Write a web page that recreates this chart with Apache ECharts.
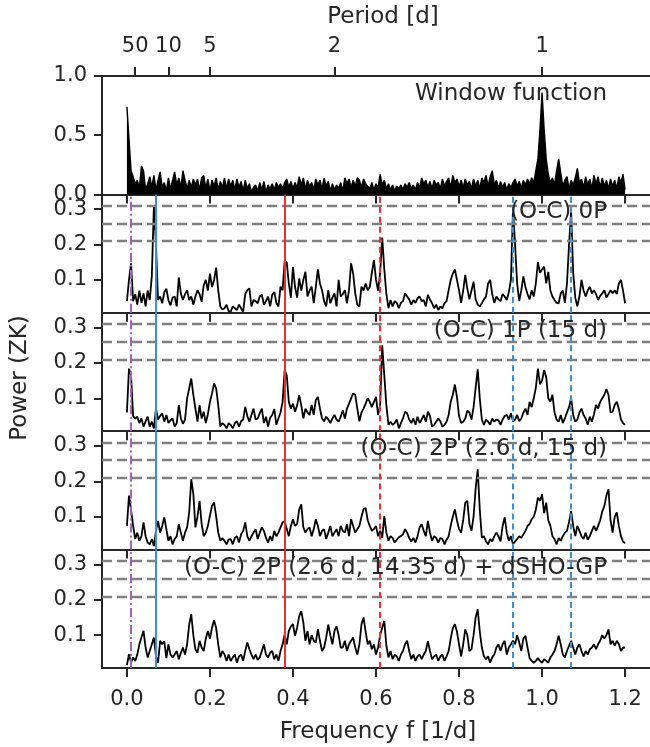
<!DOCTYPE html>
<html>
<head>
<meta charset="utf-8">
<script src="https://cdn.jsdelivr.net/npm/echarts@6/dist/echarts.min.js"></script>
<style>
  html, body { margin: 0; padding: 0; background: #fff; }
  #chart { width: 650px; height: 747px; }
</style>
</head>
<body>
<div id="chart"></div>
<script>
// frequency grid spacing of the periodograms (1/d), starting at 0
const freqStep = 0.005;

// window function power
const windowPower = [
  0.74,0.47,0.2,0.15,0.09,0.12,0.05,0.24,0.2,0.04,
  0.09,0.15,0.06,0.16,0.04,0.12,0.19,0.06,0.1,0.03,
  0.14,0.05,0.12,0.19,0.08,0.14,0.06,0.2,0.12,0.05,
  0.12,0.06,0.13,0.08,0.13,0.04,0.14,0.16,0.05,0.13,
  0.03,0.12,0.07,0.14,0.04,0.11,0.06,0.14,0.05,0.13,
  0.07,0.12,0.04,0.13,0.06,0.11,0.03,0.12,0.05,0.09,
  0.02,0.06,0.08,0.03,0.1,0.04,0.11,0.02,0.08,0.05,
  0.09,0.04,0.1,0.06,0.09,0.05,0.1,0.13,0.06,0.11,
  0.05,0.1,0.06,0.15,0.08,0.14,0.05,0.12,0.07,0.1,
  0.04,0.13,0.08,0.12,0.05,0.14,0.07,0.11,0.03,0.09,
  0.04,0.08,0.05,0.1,0.03,0.14,0.09,0.13,0.06,0.12,
  0.07,0.14,0.12,0.06,0.13,0.09,0.07,0.05,0.1,0.04,
  0.09,0.06,0.17,0.08,0.12,0.05,0.09,0.04,0.08,0.03,
  0.07,0.05,0.08,0.04,0.09,0.06,0.1,0.05,0.08,0.04,
  0.1,0.06,0.14,0.09,0.12,0.06,0.11,0.05,0.12,0.08,
  0.1,0.05,0.13,0.07,0.11,0.14,0.06,0.16,0.1,0.13,
  0.07,0.12,0.06,0.13,0.08,0.11,0.05,0.13,0.07,0.12,
  0.05,0.14,0.1,0.16,0.07,0.15,0.2,0.08,0.12,0.05,
  0.11,0.06,0.1,0.04,0.09,0.06,0.1,0.13,0.07,0.11,
  0.06,0.12,0.08,0.13,0.09,0.14,0.1,0.2,0.3,0.55,
  0.86,0.55,0.3,0.17,0.1,0.14,0.08,0.2,0.3,0.18,
  0.07,0.12,0.15,0.05,0.12,0.08,0.14,0.22,0.1,0.13,
  0.06,0.15,0.08,0.13,0.05,0.16,0.09,0.15,0.06,0.14,
  0.07,0.12,0.05,0.13,0.07,0.12,0.05,0.15,0.1,0.17,
  0.04
];

// (O-C) 0P
const oc0Power = [
  0.04,0.1,0.147,0.04,0.06,0.03,0.07,0.035,0.062,0.025,
  0.07,0.043,0.11,0.31,0.2,0.043,0.053,0.034,0.065,0.075,
  0.043,0.028,0.05,0.053,0.025,0.107,0.062,0.043,0.06,0.071,
  0.043,0.053,0.03,0.053,0.071,0.06,0.038,0.085,0.1,0.07,
  0.118,0.08,0.1,0.135,0.07,0.025,0.016,0.02,0.03,0.012,
  0.01,0.025,0.02,0.015,0.03,0.02,0.01,0.06,0.071,0.076,
  0.025,0.043,0.04,0.034,0.053,0.058,0.03,0.04,0.053,0.025,
  0.058,0.066,0.035,0.025,0.081,0.071,0.154,0.15,0.09,0.05,
  0.137,0.08,0.05,0.104,0.07,0.1,0.123,0.053,0.07,0.081,
  0.034,0.08,0.13,0.09,0.071,0.04,0.025,0.071,0.034,0.05,
  0.062,0.025,0.1,0.053,0.06,0.071,0.034,0.071,0.147,0.118,
  0.062,0.03,0.025,0.081,0.07,0.09,0.071,0.08,0.12,0.156,
  0.1,0.07,0.12,0.22,0.13,0.06,0.02,0.043,0.025,0.04,
  0.035,0.02,0.035,0.04,0.062,0.053,0.045,0.03,0.043,0.035,
  0.048,0.053,0.04,0.043,0.025,0.058,0.045,0.034,0.02,0.03,
  0.015,0.025,0.02,0.034,0.04,0.071,0.1,0.118,0.13,0.1,
  0.071,0.035,0.07,0.114,0.075,0.045,0.07,0.095,0.045,0.03,
  0.025,0.034,0.045,0.053,0.09,0.1,0.06,0.035,0.053,0.045,
  0.04,0.06,0.053,0.043,0.065,0.1,0.3,0.2,0.09,0.04,
  0.071,0.11,0.08,0.06,0.045,0.071,0.053,0.09,0.15,0.12,
  0.13,0.137,0.09,0.123,0.07,0.053,0.043,0.035,0.034,0.062,
  0.07,0.035,0.09,0.2,0.295,0.12,0.05,0.025,0.053,0.1,
  0.07,0.053,0.07,0.081,0.062,0.071,0.06,0.043,0.055,0.062,
  0.071,0.05,0.06,0.071,0.062,0.071,0.06,0.09,0.1,0.07,
  0.034
];

// (O-C) 1P (15 d)
const oc1Power = [
  0.06,0.184,0.165,0.05,0.043,0.048,0.03,0.043,0.02,0.035,
  0.048,0.02,0.034,0.015,0.071,0.04,0.05,0.058,0.034,0.053,
  0.03,0.038,0.043,0.02,0.03,0.081,0.043,0.028,0.04,0.1,
  0.128,0.156,0.11,0.071,0.034,0.081,0.043,0.062,0.03,0.055,
  0.09,0.114,0.142,0.128,0.08,0.02,0.03,0.025,0.015,0.03,
  0.025,0.015,0.03,0.035,0.02,0.035,0.04,0.076,0.05,0.034,
  0.053,0.071,0.04,0.043,0.058,0.071,0.03,0.048,0.02,0.045,
  0.053,0.07,0.025,0.043,0.06,0.09,0.18,0.165,0.09,0.071,
  0.085,0.062,0.08,0.109,0.08,0.043,0.071,0.06,0.053,0.081,
  0.053,0.095,0.104,0.071,0.043,0.035,0.048,0.04,0.03,0.043,
  0.053,0.04,0.034,0.048,0.066,0.043,0.071,0.085,0.1,0.114,
  0.11,0.071,0.035,0.06,0.071,0.085,0.1,0.09,0.075,0.09,
  0.104,0.053,0.081,0.25,0.165,0.08,0.025,0.034,0.025,0.03,
  0.04,0.015,0.03,0.043,0.062,0.058,0.04,0.03,0.043,0.025,
  0.048,0.03,0.04,0.053,0.034,0.062,0.05,0.02,0.025,0.034,
  0.043,0.035,0.02,0.025,0.034,0.053,0.09,0.11,0.139,0.104,
  0.05,0.03,0.034,0.043,0.065,0.06,0.04,0.075,0.13,0.182,
  0.1,0.04,0.025,0.04,0.034,0.025,0.043,0.034,0.04,0.038,
  0.025,0.04,0.05,0.053,0.04,0.058,0.035,0.04,0.053,0.035,
  0.043,0.06,0.071,0.053,0.09,0.075,0.1,0.13,0.184,0.14,
  0.15,0.18,0.16,0.1,0.09,0.11,0.06,0.04,0.034,0.053,
  0.03,0.043,0.06,0.075,0.1,0.053,0.034,0.04,0.06,0.071,
  0.053,0.043,0.025,0.048,0.034,0.055,0.081,0.071,0.09,0.1,
  0.11,0.126,0.11,0.06,0.062,0.081,0.09,0.07,0.04,0.03,
  0.025
];

// (O-C) 2P (2.6 d, 15 d)
const oc2Power = [
  0.074,0.16,0.12,0.074,0.037,0.055,0.032,0.045,0.084,0.045,
  0.027,0.022,0.037,0.017,0.06,0.088,0.055,0.074,0.098,0.065,
  0.032,0.045,0.022,0.037,0.045,0.079,0.055,0.032,0.055,0.07,
  0.112,0.206,0.165,0.07,0.1,0.145,0.08,0.045,0.055,0.074,
  0.103,0.131,0.14,0.1,0.055,0.032,0.04,0.032,0.022,0.035,
  0.037,0.022,0.04,0.045,0.027,0.05,0.06,0.084,0.045,0.032,
  0.045,0.055,0.065,0.037,0.055,0.07,0.06,0.04,0.027,0.045,
  0.032,0.06,0.045,0.055,0.07,0.084,0.088,0.065,0.045,0.074,
  0.093,0.074,0.08,0.12,0.135,0.07,0.055,0.065,0.07,0.045,
  0.065,0.093,0.074,0.045,0.06,0.065,0.037,0.055,0.074,0.045,
  0.055,0.065,0.045,0.074,0.06,0.055,0.079,0.045,0.093,0.074,
  0.055,0.065,0.074,0.1,0.121,0.125,0.09,0.074,0.06,0.065,
  0.074,0.045,0.06,0.04,0.102,0.055,0.032,0.045,0.04,0.027,
  0.035,0.042,0.045,0.05,0.065,0.055,0.04,0.03,0.04,0.027,
  0.045,0.07,0.079,0.06,0.045,0.088,0.055,0.032,0.045,0.04,
  0.027,0.04,0.037,0.022,0.035,0.045,0.075,0.1,0.121,0.09,
  0.065,0.055,0.09,0.14,0.145,0.08,0.06,0.1,0.18,0.234,
  0.12,0.04,0.045,0.03,0.022,0.037,0.03,0.045,0.055,0.045,
  0.03,0.074,0.098,0.055,0.032,0.045,0.022,0.03,0.037,0.045,
  0.04,0.05,0.06,0.074,0.08,0.093,0.1,0.12,0.154,0.145,
  0.163,0.11,0.14,0.09,0.074,0.045,0.037,0.022,0.04,0.032,
  0.045,0.055,0.06,0.085,0.116,0.074,0.045,0.074,0.06,0.045,
  0.037,0.055,0.035,0.045,0.06,0.074,0.06,0.074,0.09,0.115,
  0.13,0.16,0.178,0.09,0.055,0.1,0.112,0.074,0.045,0.03,
  0.025
];

// (O-C) 2P (2.6 d, 14.35 d) + dSHO-GP
const gpPower = [
  0.015,0.046,0.022,0.037,0.027,0.045,0.074,0.093,0.112,0.065,
  0.037,0.055,0.074,0.093,0.04,0.022,0.084,0.074,0.083,0.035,
  0.074,0.045,0.037,0.045,0.055,0.032,0.05,0.065,0.045,0.074,
  0.13,0.159,0.1,0.06,0.05,0.084,0.065,0.055,0.09,0.112,
  0.09,0.121,0.142,0.12,0.074,0.037,0.055,0.045,0.027,0.045,
  0.027,0.037,0.045,0.022,0.04,0.045,0.027,0.055,0.079,0.06,
  0.045,0.032,0.045,0.03,0.037,0.055,0.074,0.045,0.037,0.05,
  0.055,0.032,0.045,0.027,0.055,0.074,0.102,0.074,0.112,0.125,
  0.131,0.098,0.121,0.154,0.168,0.135,0.084,0.112,0.074,0.1,
  0.084,0.079,0.117,0.084,0.055,0.065,0.093,0.13,0.1,0.074,
  0.112,0.125,0.1,0.065,0.065,0.084,0.055,0.074,0.084,0.093,
  0.065,0.045,0.074,0.13,0.15,0.11,0.074,0.084,0.06,0.074,
  0.045,0.065,0.1,0.121,0.14,0.07,0.037,0.055,0.032,0.045,
  0.04,0.027,0.045,0.055,0.074,0.084,0.055,0.032,0.045,0.027,
  0.04,0.045,0.032,0.045,0.055,0.083,0.055,0.032,0.04,0.045,
  0.027,0.04,0.045,0.027,0.04,0.055,0.09,0.12,0.131,0.11,
  0.074,0.04,0.074,0.116,0.1,0.055,0.06,0.1,0.15,0.173,
  0.11,0.065,0.04,0.032,0.04,0.022,0.037,0.045,0.065,0.074,
  0.055,0.074,0.084,0.045,0.065,0.074,0.084,0.074,0.1,0.079,
  0.055,0.09,0.098,0.065,0.035,0.027,0.022,0.027,0.035,0.027,
  0.022,0.032,0.027,0.022,0.037,0.045,0.055,0.074,0.098,0.074,
  0.045,0.037,0.055,0.07,0.084,0.065,0.045,0.065,0.074,0.055,
  0.04,0.055,0.045,0.06,0.065,0.074,0.06,0.074,0.084,0.1,
  0.09,0.1,0.116,0.074,0.084,0.07,0.084,0.074,0.055,0.065,
  0.065
];

const panelLabels = [
  'Window function',
  '(O-C) 0P',
  '(O-C) 1P (15 d)',
  '(O-C) 2P (2.6 d, 15 d)',
  '(O-C) 2P (2.6 d, 14.35 d) + dSHO-GP'
];
const fapLevels = [0.213, 0.264, 0.31];
// purple, blue, red, red alias, blue aliases
const markerFreqs = [0.007, 0.068, 0.382, 0.615, 0.933, 1.07];
const freqTicks = [0, 0.2, 0.4, 0.6, 0.8, 1.0, 1.2];
const periodTicks = [50, 10, 5, 2, 1];
const powerTicks = [0.1, 0.2, 0.3];

const INK = '#262626';
const FONT = 'DejaVu Sans';
const panelTop = [76, 194.4, 312.8, 431.2, 549.6];
const panelH = 118.4;
const xMin = -0.06, xMax = 1.26;

const markerStyles = [
  { color: '#a45ec4', width: 2, type: [9, 3, 2, 3] },
  { color: '#3d8fd1', width: 2, type: 'solid' },
  { color: '#e8312f', width: 2, type: 'solid' },
  { color: '#e8312f', width: 2, type: [6, 4] },
  { color: '#3d8fd1', width: 2, type: [6, 4] },
  { color: '#3d8fd1', width: 2, type: [6, 4] }
];

const toPairs = arr => arr.map((v, i) => [+(i * freqStep).toFixed(3), v]);
const powers = [windowPower, oc0Power, oc1Power, oc2Power, gpPower];

const grids = panelTop.map(t => ({ left: 102, width: 550, top: t, height: panelH }));

const tickLabel = { color: INK, fontFamily: FONT, fontSize: 21 };

const xAxes = panelTop.map((t, k) => ({
  type: 'value', gridIndex: k, min: xMin, max: xMax, position: 'bottom',
  splitLine: { show: false },
  axisLine: { show: true, onZero: false, lineStyle: { color: INK, width: 2 } },
  axisTick: { show: true, length: 9, customValues: freqTicks, lineStyle: { color: INK, width: 2 } },
  axisLabel: Object.assign({ show: k === 4, customValues: freqTicks, margin: 21,
    formatter: v => v.toFixed(1) }, tickLabel)
}));
// period axis on top of the window panel
const periodFreqs = periodTicks.map(p => 1 / p);
xAxes.push({
  type: 'value', gridIndex: 0, min: xMin, max: xMax, position: 'top',
  splitLine: { show: false },
  axisLine: { show: true, onZero: false, lineStyle: { color: INK, width: 2 } },
  axisTick: { show: true, length: 9, customValues: periodFreqs, lineStyle: { color: INK, width: 2 } },
  axisLabel: Object.assign({ customValues: periodFreqs, margin: 19,
    formatter: v => String(Math.round(1 / v)) }, tickLabel)
});

const yAxes = panelTop.map((t, k) => {
  const ax = {
    type: 'value', gridIndex: k,
    splitLine: { show: false },
    axisLine: { show: true, onZero: false, lineStyle: { color: INK, width: 2 } },
    axisTick: { show: true, length: 8, lineStyle: { color: INK, width: 2 } },
    axisLabel: Object.assign({ margin: 15, formatter: v => v.toFixed(1) }, tickLabel)
  };
  if (k === 0) {
    ax.min = 0; ax.max = 1; ax.interval = 0.5;
  } else {
    ax.min = 0.007; ax.max = 0.342;
    ax.axisTick.customValues = powerTicks;
    ax.axisLabel.customValues = powerTicks;
  }
  return ax;
});

const series = [];
powers.forEach((arr, k) => {
  // reference lines sit under the periodogram curves
  if (k > 0) {
    series.push({
      type: 'line', xAxisIndex: k, yAxisIndex: k, data: [], z: 2,
      markLine: {
        silent: true, symbol: ['none', 'none'], label: { show: false }, animation: false,
        data: fapLevels.map(y => ({ yAxis: y, lineStyle: { color: '#808080', width: 2.4, type: [10, 5] } }))
          .concat(markerFreqs.map((f, j) => ({ xAxis: f, lineStyle: markerStyles[j] })))
      }
    });
  }
  series.push({
    type: 'line', xAxisIndex: k, yAxisIndex: k,
    data: toPairs(arr),
    symbol: 'none', showSymbol: false,
    lineStyle: { color: '#000', width: k === 0 ? 1.4 : 1.8 },
    areaStyle: k === 0 ? { color: '#000', opacity: 1 } : undefined,
    animation: false, z: 3
  });
});

const titleFont = { fill: INK, fontFamily: FONT, fontSize: 23 };
const graphic = [
  { type: 'text', x: 383, y: 17, style: Object.assign({ text: 'Period [d]', textAlign: 'center', textVerticalAlign: 'middle' }, titleFont) },
  { type: 'text', x: 378, y: 732, style: Object.assign({ text: 'Frequency f [1/d]', textAlign: 'center', textVerticalAlign: 'middle' }, titleFont) },
  { type: 'text', x: 20, y: 378, rotation: Math.PI / 2, style: Object.assign({ text: 'Power (ZK)', textAlign: 'center', textVerticalAlign: 'middle' }, titleFont) }
].concat(panelLabels.map((txt, k) => ({
  type: 'text', x: 607, y: panelTop[k] + 18, z: 10,
  style: Object.assign({ text: txt, textAlign: 'right', textVerticalAlign: 'middle' }, titleFont)
})));

const chart = echarts.init(document.getElementById('chart'));
chart.setOption({
  animation: false,
  backgroundColor: '#fff',
  grid: grids,
  xAxis: xAxes,
  yAxis: yAxes,
  series: series,
  graphic: graphic
});
</script>
</body>
</html>
